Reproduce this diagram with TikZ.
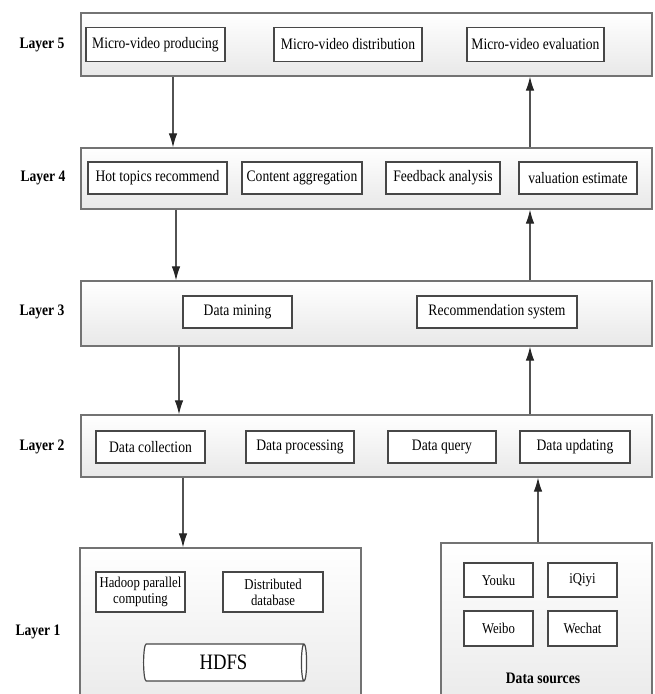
\documentclass[tikz,border=0pt]{standalone}
\usepackage{fontspec}
\setmainfont{Liberation Serif}[FakeStretch=0.85]
\usetikzlibrary{arrows.meta,shapes.geometric,shadows}
\begin{document}
\begin{tikzpicture}[x=1pt,y=-1pt,
 layerbox/.style={draw=black!55, line width=1.2pt, top color=white, bottom color=black!9, inner sep=0pt,
   drop shadow={opacity=0.18,shadow xshift=1.3pt,shadow yshift=-1.3pt}},
 itembox/.style={draw=black!72, line width=1.3pt, fill=white, inner sep=0pt, align=center,
   font=\fontsize{16}{18}\selectfont},
 smallbox/.style={itembox, font=\fontsize{15}{16}\selectfont},
 lab/.style={font=\bfseries\fontsize{16}{18}\selectfont},
 arr/.style={draw=black!68, line width=1.1pt, -{Latex[length=14pt,width=8.5pt,color=black!85]}},
]
\clip (0,0) rectangle (654,694);
\fill[white] (0,0) rectangle (654,694);

% layer boxes
\node[layerbox, minimum width=571, minimum height=63] (L5) at (366.5,44.5) {};
\node[layerbox, minimum width=571, minimum height=61] (L4) at (366.5,178.5) {};
\node[layerbox, minimum width=571, minimum height=65] (L3) at (366.5,313.5) {};
\node[layerbox, minimum width=571, minimum height=62] (L2) at (366.5,446) {};
\node[layerbox, minimum width=281, minimum height=172] (L1) at (220.5,634) {};
\node[layerbox, minimum width=211, minimum height=177] (DS) at (546.5,631.5) {};

% labels
\node[lab] (t5) at (42,45) {Layer 5};
\node[lab] (t4) at (43,178) {Layer 4};
\node[lab] (t3) at (42,312) {Layer 3};
\node[lab] (t2) at (42,447) {Layer 2};
\node[lab] (t1) at (38,632) {Layer 1};

% layer 5
\node[itembox, minimum width=139, minimum height=34] (a51) at (155.5,44.5) {Micro-video producing};
\node[itembox, minimum width=148, minimum height=34] (a52) at (348,44.5) {Micro-video distribution};
\node[itembox, minimum width=137, minimum height=34] (a53) at (535.5,44.5) {Micro-video evaluation};

% layer 4
\node[itembox, minimum width=139, minimum height=32] (a41) at (157.5,178) {Hot topics recommend};
\node[itembox, minimum width=120, minimum height=32] (a42) at (302,178) {Content aggregation};
\node[itembox, minimum width=114, minimum height=32] (a43) at (443,178) {Feedback analysis};
\node[itembox, minimum width=118, minimum height=32] (a44) at (578,178) {valuation estimate};

% layer 3
\node[itembox, minimum width=109, minimum height=32] (a31) at (237.5,312) {Data mining};
\node[itembox, minimum width=160, minimum height=32] (a32) at (497,312) {Recommendation system};

% layer 2
\node[itembox, minimum width=109, minimum height=32] (a21) at (150.5,447) {Data collection};
\node[itembox, minimum width=108, minimum height=32] (a22) at (300,447) {Data processing};
\node[itembox, minimum width=108, minimum height=32] (a23) at (442,447) {Data query};
\node[itembox, minimum width=110, minimum height=32] (a24) at (575,447) {Data updating};

% layer 1
\node[smallbox, minimum width=89, minimum height=40] (h1) at (140.5,592) {Hadoop parallel\\computing};
\node[smallbox, minimum width=100, minimum height=40] (h2) at (273,592) {Distributed\\database};
\node[cylinder, draw=black!72, line width=1.2pt, fill=white, minimum width=37, minimum height=163,
  aspect=0.35, inner sep=0pt, font=\fontsize{22}{24}\selectfont] (hdfs) at (223.5,662.5) {HDFS};

% data sources
\node[smallbox, minimum width=69, minimum height=34] (d1) at (498.5,580) {Youku};
\node[smallbox, minimum width=69, minimum height=34] (d2) at (582.5,580) {iQiyi};
\node[smallbox, minimum width=69, minimum height=35] (d3) at (498.5,628.5) {Weibo};
\node[smallbox, minimum width=69, minimum height=35] (d4) at (582.5,628.5) {Wechat};
\node[lab] (dst) at (543,678) {Data sources};

% arrow x positions
\coordinate (x1) at (173,0);
\coordinate (x2) at (176,0);
\coordinate (x3) at (179,0);
\coordinate (x4) at (183,0);
\coordinate (xr) at (530,0);
\coordinate (xs) at (538,0);

\draw[arr] (L5.south -| x1) -- (L4.north -| x1);
\draw[arr] (L4.south -| x2) -- (L3.north -| x2);
\draw[arr] (L3.south -| x3) -- (L2.north -| x3);
\draw[arr] (L2.south -| x4) -- (L1.north -| x4);
\draw[arr] (L4.north -| xr) -- (L5.south -| xr);
\draw[arr] (L3.north -| xr) -- (L4.south -| xr);
\draw[arr] (L2.north -| xr) -- (L3.south -| xr);
\draw[arr] (DS.north -| xs) -- (L2.south -| xs);
\end{tikzpicture}
\end{document}
